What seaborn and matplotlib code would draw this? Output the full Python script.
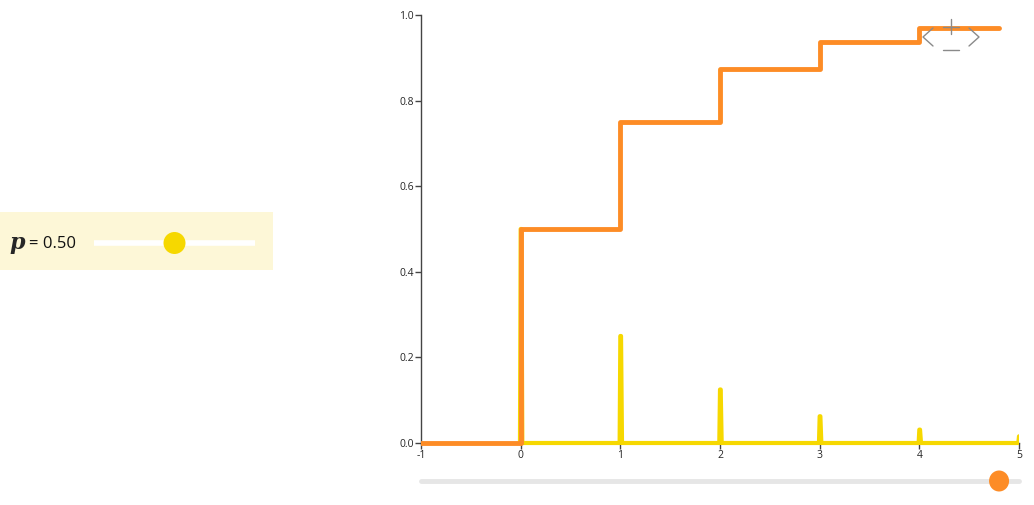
import numpy as np
import pandas as pd
import matplotlib
matplotlib.use("Agg")
import matplotlib.pyplot as plt
import seaborn as sns
from matplotlib.patches import Rectangle, Ellipse

# geometric distribution, p = 0.5
p_value = 0.5
k_values = [0, 1, 2, 3, 4, 5]
pmf_values = [0.5, 0.25, 0.125, 0.0625, 0.03125, 0.015625]
cdf_values = [0.5, 0.75, 0.875, 0.9375, 0.96875]
x_slider = 4.8          # position of the orange slider (end of CDF line)
x_ticks = [-1, 0, 1, 2, 3, 4, 5]
y_ticks = [0.0, 0.2, 0.4, 0.6, 0.8, 1.0]

orange = "#fd8c26"
yellow = "#f6d800"

sns.set_style("white")
plt.rcParams["font.family"] = ["Open Sans", "DejaVu Sans"]

fig = plt.figure(figsize=(10.34, 5.05), dpi=100)
ax = fig.add_axes([421 / 1034, 62 / 505, 598 / 1034, 428 / 505])

# pmf drawn as a line with narrow spikes
w = 0.014
px, py = [k_values[0]], [0]
for k, v in zip(k_values, pmf_values):
    px += [k - w / 2, k, k + w / 2, k + w * 1.2]
    py += [0, v, v, 0]
px.append(k_values[-1] + 1)
py.append(0)
pmf_df = pd.DataFrame({"x": px, "y": py})
sns.lineplot(data=pmf_df, x="x", y="y", ax=ax, color=yellow, lw=3,
             sort=False, estimator=None, zorder=2)

# cdf step line
cx = [-1] + k_values[:len(cdf_values)] + [x_slider]
cy = [0] + cdf_values + [cdf_values[-1]]
cdf_df = pd.DataFrame({"x": cx, "y": cy})
sns.lineplot(data=cdf_df, x="x", y="y", ax=ax, color=orange, lw=3.5,
             sort=False, estimator=None, drawstyle="steps-post", zorder=3)

# let the lines show below y=0 but still clip at the x range
clip = Rectangle((0, -0.05), 1, 1.1, transform=ax.transAxes)
for ln in ax.lines:
    ln.set_clip_path(clip)

ax.set_xlim(-1, 5)
ax.set_ylim(0, 1)
ax.set_xticks(x_ticks)
ax.set_xticklabels([str(t) for t in x_ticks])
ax.set_yticks(y_ticks)
ax.set_yticklabels([f"{t:.1f}" for t in y_ticks])
ax.set_xlabel("")
ax.set_ylabel("")
for s in ["top", "right"]:
    ax.spines[s].set_visible(False)
for s in ["left", "bottom"]:
    ax.spines[s].set_color("#444444")
    ax.spines[s].set_linewidth(1)
ax.spines["bottom"].set_zorder(1)
ax.tick_params(axis="both", length=4, width=1, color="#444444",
               labelsize=7.5, pad=1, direction="out",
               bottom=True, left=True)

# overlay in pixel coordinates for the widgets
ov = fig.add_axes([0, 0, 1, 1], zorder=5)
ov.set_xlim(0, 1034)
ov.set_ylim(505, 0)
ov.axis("off")
ov.patch.set_alpha(0)

# p slider panel
ov.add_patch(Rectangle((0, 212), 273, 58, color="#fdf7d7", lw=0, zorder=0))
ov.text(9, 249, "p", family="DejaVu Serif", style="italic",
        fontweight="bold", fontsize=16, va="baseline")
ov.text(29, 248, "= 0.50", fontsize=12, va="baseline", color="#111111")
t0, t1 = 94, 255
ov.plot([t0, t1], [243, 243], color="white", lw=4, solid_capstyle="butt",
        zorder=1)
kx = t0 + p_value * (t1 - t0)
ov.add_patch(Ellipse((kx, 243), 22, 22, color=yellow, lw=0, zorder=3))

# x slider below the chart
s0, s1 = 421, 1019
ov.plot([s0, s1], [481, 481], color="#e6e6e6", lw=3.5, solid_capstyle="round",
        zorder=1)
sx = s0 + (x_slider - x_ticks[0]) / (x_ticks[-1] - x_ticks[0]) * (s1 - s0)
ov.add_patch(Ellipse((sx, 481), 20, 21, color=orange, lw=0, zorder=3))

# zoom controls
g = "#8a8a8a"
ov.plot([933, 923, 933], [28, 37, 46], color=g, lw=1)
ov.plot([969, 979, 969], [28, 37, 46], color=g, lw=1)
ov.plot([943, 959], [27, 27], color=g, lw=1)
ov.plot([951, 951], [19, 34], color=g, lw=1)
ov.plot([943, 959], [50, 50], color=g, lw=1)

fig.savefig("out.png", dpi=100)
